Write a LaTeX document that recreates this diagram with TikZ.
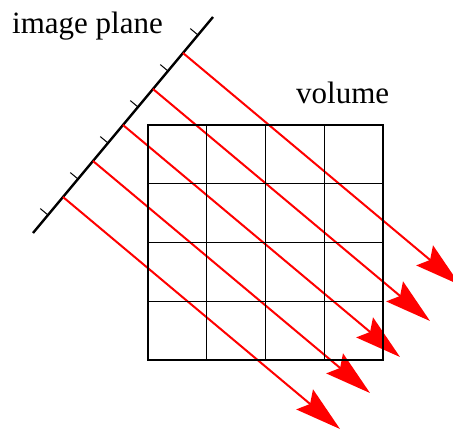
\documentclass[tikz,border=0pt]{standalone}
\usepackage{fontspec}
\setmainfont{Liberation Serif}
\usetikzlibrary{arrows.meta,calc}
\begin{document}
\begin{tikzpicture}[x=1pt,y=-1pt,
  planeline/.style={line width=2.4pt,black},
  tickline/.style={line width=1pt,black},
  ray/.style={line width=2pt,red,-{Stealth[length=46pt,width=26pt,inset=7pt]}},
  outerbox/.style={line width=2.4pt,black},
  innerline/.style={line width=1.1pt,black},
  lbl/.style={font=\fontsize{31}{36}\selectfont,anchor=base west,inner sep=0pt}]
\useasboundingbox (0,0) rectangle (453,431);
\clip (0,0) rectangle (453,431);
% image plane
\coordinate (A) at (33,233);
\coordinate (B) at (213,17);
\draw[planeline] (A) -- (B);
\foreach \k in {0,...,5}{
  \coordinate (t\k) at ($(A)!{(\k+0.5)/6}!(B)$);
  \draw[tickline] (t\k) -- ++(-7.7,-6.4);
}
% rays
\foreach \k in {1,...,5}{
  \coordinate (s\k) at ($(A)!{\k/6}!(B)$);
  \coordinate (e\k) at ($(s\k)+(277,232)$);
  \draw[ray] (s\k) -- (e\k);
}
% volume grid
\coordinate (V1) at (148,125);
\coordinate (V2) at (383,360);
\foreach \i in {1,2,3}{
  \draw[innerline] ($(V1)+(\i*58.75,0)$) -- ($(V1)+(\i*58.75,235)$);
  \draw[innerline] ($(V1)+(0,\i*58.75)$) -- ($(V1)+(235,\i*58.75)$);
}
\draw[outerbox] (V1) rectangle (V2);
% labels
\node[lbl] (planelabel) at (12,33) {image plane};
\node[lbl] (volumelabel) at (296,103) {volume};
\end{tikzpicture}
\end{document}
